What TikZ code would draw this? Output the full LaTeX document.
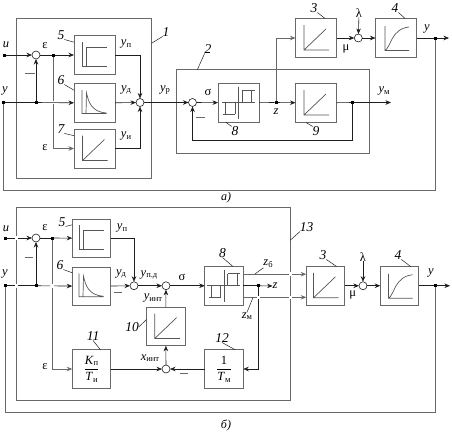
\documentclass[tikz,border=0pt]{standalone}
\usepackage{amsmath}
\usepackage{fontspec}
\setmainfont{Liberation Serif}
\usetikzlibrary{arrows.meta, positioning}
\definecolor{ctrlline}{RGB}{30,30,30}
\definecolor{ctrlgray}{RGB}{105,105,105}
\newcommand{\lab}[2]{\textit{#1}\raisebox{-.3ex}{\fontsize{8.5}{9}\selectfont #2}}
\newcommand{\stepicon}[1]{\draw[icon,shift={(#1)}] (-12.5,-13) -- (-12.5,11) -- (12,11) (-8,11) -- (-8,-7.5) -- (12,-7.5);}
\newcommand{\decayicon}[1]{\draw[icon,shift={(#1)}] (-12.5,-13) -- (-12.5,10.5) -- (12,10.5) (-8.5,10.5) -- (-8,-10) .. controls (-6,-1) and (-3,9) .. (12,10);}
\newcommand{\rampicon}[2][]{\draw[icon,shift={(#2)},#1] (-12,-13) -- (-12,12) -- (13,12) (-12,12) -- (10,-9);}
\newcommand{\riseicon}[1]{\draw[icon,shift={(#1)}] (-11,-12) -- (-11,12.5) -- (13,12.5) (-11,12.5) .. controls (-5,9) and (-5,-9) .. (13,-11);}
\newcommand{\relayicon}[1]{\draw[icon,shift={(#1)}] (0,-16) -- (0,16) (-17,0) -- (16,0) (3.5,0) -- (3.5,-12) (13,0) -- (13,-12) (3.5,-12) -- (16,-12) (-3.5,0) -- (-3.5,11.5) (-13,0) -- (-13,11.5) (-15.5,11.5) -- (-3.5,11.5);}

\begin{document}
\begin{tikzpicture}[
  x=1pt, y=-1pt,
  every node/.style={font=\fontsize{12.5}{13}\selectfont, outer sep=0pt},
  ablock/.style={draw=ctrlgray, line width=.9pt, minimum width=41pt, minimum height=39pt, inner sep=0pt},
  bblock/.style={draw=ctrlgray, line width=.9pt, minimum width=38.5pt, minimum height=38.5pt, inner sep=0pt},
  frame/.style={draw=ctrlgray, line width=.9pt, inner sep=0pt},
  sumnode/.style={draw=ctrlline, line width=.6pt, circle, minimum size=8pt, inner sep=0pt},
  jn/.style={fill=black, rectangle, minimum size=3pt, inner sep=0pt},
  gapnode/.style={fill=white, rectangle, minimum size=3.5pt, inner sep=0pt},
  sig/.style={-{Stealth[length=5.5pt, width=4.5pt]}, line width=.6pt, ctrlline},
  wire/.style={line width=.6pt, ctrlline},
  fb/.style={line width=.9pt, ctrlgray},
  fbsig/.style={-{Stealth[length=5.5pt, width=4.5pt]}, line width=.9pt, ctrlgray},
  icon/.style={line width=.7pt, ctrlline!75},
  tick/.style={line width=.5pt, ctrlline},
  minus/.style={line width=.8pt, ctrlgray},
  lab/.style={inner sep=0pt},
  num/.style={inner sep=0pt, font=\fontsize{13.5}{14}\selectfont\itshape}
]
\useasboundingbox (0,0) rectangle (452,431);
% panel a
\node[frame, minimum width=135pt, minimum height=160pt] (a1) at (84,98) {};
\node[frame, minimum width=192.5pt, minimum height=83.5pt] (a2) at (272.75,111.25) {};
\node[ablock] (a5) at (94.5,55) {};
\node[ablock, below=9pt of a5] (a6) {};
\node[ablock, below=6.5pt of a6] (a7) {};
\node[ablock] (a8) at (238.5,102.75) {};
\node[ablock] (a9) at (316,103) {};
\node[ablock] (a3) at (316,38) {};
\node[ablock] (a4) at (396,38) {};
\stepicon{a5}
\decayicon{a6}
\rampicon{a7}
\relayicon{a8}
\rampicon{a9}
\rampicon{a3}
\riseicon{a4}
\node[sumnode] (aerr) at (36,55) {};
\node[sumnode] (ares) at (140,102.5) {};
\node[sumnode] (asig) at (192.5,102.5) {};
\node[sumnode] (amu) at (358.3,38) {};
\node[jn] (au) at (4,55) {};
\node[jn] (ay) at (3.5,102.5) {};
\node[jn] (ajy) at (36,102.5) {};
\node[jn] (aje) at (53,55) {};
\node[jn] (ajz) at (276,102.5) {};
\node[jn] (ajm) at (352.7,102.5) {};
\node[jn] (ajo) at (435,38) {};
\coordinate (aout) at (449,38);
\coordinate (aym) at (391,102.5);
\coordinate (afbm) at (352.7,140);
\coordinate (afby) at (435,190);
\node[lab] (alam) at (359,13) {λ};
\draw[sig] (au) -- (aerr);
\draw[wire] (aerr) -- (aje);
\draw[sig] (aje) -- (a5);
\draw[fbsig] (aje) |- (a7);
\node[gapnode] (agap) at (53,102.5) {};
\draw[wire] (ay) -- (ajy);
\draw[sig] (ajy) -- (aerr);
\draw[sig] (ajy) -- (a6);
\draw[sig] (a5) -| (ares);
\draw[sig] (a6) -- (ares);
\draw[sig] (a7) -| (ares);
\draw[sig] (ares) -- (asig);
\draw[sig] (asig) -- (a8);
\draw[wire] (a8) -- (ajz);
\draw[sig] (ajz) -- (a9);
\draw[wire] (a9) -- (ajm);
\draw[sig] (ajm) -- (aym);
\draw[sig] (ajm) -- (afbm) -| (asig);
\draw[fbsig] (ajz) |- (a3);
\draw[sig] (a3) -- (amu);
\draw[sig] (alam) -- (amu);
\draw[sig] (amu) -- (a4);
\draw[wire] (a4) -- (ajo);
\draw[sig] (ajo) -- (aout);
\draw[fb] (ajo) -- (afby) -| (ay);
\draw[minus] (25,73) -- (35,73);
\draw[minus] (196,117) -- (205,117);
\node[lab] (alu) at (6,45) {\textit{u}};
\node[lab] (aly) at (5,91) {\textit{y}};
\node[lab] (ale1) at (45,46) {ε};
\node[lab] (ale2) at (45,148) {ε};
\node[lab] (alp) at (126,44) {\lab{y}{п}};
\node[lab] (ald) at (126,90) {\lab{y}{д}};
\node[lab] (ali) at (126,136) {\lab{y}{и}};
\node[lab] (alr) at (165,90) {\lab{y}{р}};
\node[lab] (als) at (208,92) {σ};
\node[lab] (alz) at (276,111.5) {\textit{z}};
\node[lab] (almu) at (346,49) {μ};
\node[lab] (aloy) at (427,28.5) {\textit{y}};
\node[lab] (alm) at (384,91) {\lab{y}{м}};
\node[num] (n1) at (166,32) {1};
\node[num] (n2) at (208,49) {2};
\node[num] (n3) at (314,8) {3};
\node[num] (n4) at (395,8) {4};
\node[num] (n5) at (61,35) {5};
\node[num] (n6) at (61,80) {6};
\node[num] (n7) at (61,129) {7};
\node[num] (n8) at (235,131) {8};
\node[num] (n9) at (316,131) {9};
\draw[tick] (n1.south west) -- (a1.39);
\draw[tick] (n2.south west) -- (a2.151);
\draw[tick] (n3.south east) -- (a3.65);
\draw[tick] (n4.south east) -- (a4.65);
\draw[tick] (n5.south east) -- (a5.148);
\draw[tick] (n6.south east) -- (a6.148);
\draw[tick] (n7.south east) -- (a7.148);
\draw[tick] (n8.north west) -- (a8.-123);
\draw[tick] (n9.north west) -- (a9.-117);
\node[lab, font=\fontsize{12}{13}\selectfont\itshape] (acap) at (226,198) {а)};
% panel b
\node[frame, minimum width=273.8pt, minimum height=192.6pt] (b13) at (153.4,304) {};
\node[bblock] (b5) at (91.5,238.25) {};
\node[bblock, below=9.5pt of b5] (b6) {};
\node[bblock] (b11) at (91.5,369) {};
\node[bblock] (b8) at (224,285.75) {};
\node[bblock] (b10) at (165.75,326.5) {};
\node[bblock] (b12) at (224,369) {};
\node[bblock] (b3) at (325.5,285.75) {};
\node[bblock] (b4) at (399.5,285.75) {};
\stepicon{b5}
\decayicon{b6}
\relayicon{b8}
\rampicon[xshift=1pt]{b10}
\rampicon{b3}
\riseicon{b4}
\node[lab] (b11t) at (b11) {$\dfrac{\mbox{\lab{K}{п}}}{\mbox{\lab{T}{и}}}$};
\node[lab] (b12t) at (b12) {$\dfrac{\mbox{1}}{\mbox{\lab{T}{м}}}$};
\node[sumnode] (berr) at (36,238) {};
\node[sumnode] (bpd) at (134,285.75) {};
\node[sumnode] (bsig) at (166,285.75) {};
\node[sumnode] (bx) at (166,369) {};
\node[sumnode] (bmu) at (363,285.75) {};
\node[jn] (bu) at (5,238) {};
\node[jn] (by) at (5.5,285.75) {};
\node[jn] (bjy) at (36,285.75) {};
\node[jn] (bje) at (52,238) {};
\node[jn] (bjz) at (258.5,285.75) {};
\node[jn] (bjo) at (435,285.75) {};
\coordinate (bout) at (450,285.75);
\coordinate (bfby) at (435,412.5);
\coordinate (bzbt) at (255,274);
\coordinate (bzmt) at (253,297.5);
\node[lab] (blam) at (363,257) {λ};
\node[lab] (blz) at (275,286) {\textit{z}};
\draw[sig] (bu) -- (berr);
\draw[wire] (berr) -- (bje);
\draw[sig] (bje) -- (b5);
\draw[fbsig] (bje) |- (b11);
\draw[wire] (by) -- (bjy);
\draw[sig] (bjy) -- (berr);
\draw[sig] (bjy) -- (b6);
\draw[sig] (b5) -| (bpd);
\draw[sig] (b6) -- (bpd);
\draw[sig] (bpd) -- (bsig);
\draw[sig] (bsig) -- (b8);
\draw[sig] (b10) -- (bsig);
\draw[sig] (bx) -- (b10);
\draw[sig] (b11) -- (bx);
\draw[sig] (b12) -- (bx);
\draw[fbsig] (b8.31) -- (b3.149);
\draw[fbsig] (b8.-31) -- (b3.-149);
\draw[wire] (b8) -- (bjz);
\draw[sig] (bjz) -- (blz);
\draw[sig] (bjz) |- (b12);
\draw[sig] (b3) -- (bmu);
\draw[sig] (blam) -- (bmu);
\draw[sig] (bmu) -- (b4);
\draw[wire] (b4) -- (bjo);
\draw[sig] (bjo) -- (bout);
\draw[fb] (bjo) -- (bfby) -| (by);
\node[gapnode] (bgap1) at (16.5,238) {};
\node[gapnode] (bgap2) at (16.5,285.75) {};
\node[gapnode] (bgap3) at (52,285.75) {};
\node[gapnode] (bgap4) at (290.3,274) {};
\node[gapnode] (bgap5) at (290.3,297.5) {};
\node[gapnode] (bgap6) at (258.5,297.5) {};
\draw[minus] (24.5,257) -- (33,257);
\draw[minus] (114,292) -- (122,292);
\draw[minus] (180,373) -- (188,373);
\node[lab] (blu) at (6,229) {\textit{u}};
\node[lab] (bly) at (5,274) {\textit{y}};
\node[lab] (ble1) at (45,228) {ε};
\node[lab] (ble2) at (45,367) {ε};
\node[lab] (blp) at (122,228) {\lab{y}{п}};
\node[lab] (bld) at (121,274) {\lab{y}{д}};
\node[lab] (blpd) at (149,275) {\lab{y}{п.д}};
\node[lab] (bls) at (182,277) {σ};
\node[lab] (bli) at (153,298) {\lab{y}{инт}};
\node[lab] (blx) at (150,358) {\lab{x}{инт}};
\node[lab] (blmu) at (352.7,295) {μ};
\node[lab] (bloy) at (431,273) {\textit{y}};
\node[lab] (blzb) at (268,264) {\lab{z}{б}};
\node[lab] (blzm) at (247,316) {\lab{z}{м}};
\node[num] (m3) at (323,255) {3};
\node[num] (m4) at (398,255) {4};
\node[num] (m5) at (62,222) {5};
\node[num] (m6) at (60,265) {6};
\node[num] (m8) at (222.5,253) {8};
\node[num] (m10) at (132,327) {10};
\node[num] (m11) at (93,336) {11};
\node[num] (m12) at (222,338) {12};
\node[num] (m13) at (306.7,227) {13};
\draw[tick] (m3.south east) -- (b3.60);
\draw[tick] (m4.south east) -- (b4.60);
\draw[tick] (m5.south east) -- (b5.145);
\draw[tick] (m6.south east) -- (b6.145);
\draw[tick] (m8.south) -- (b8.65);
\draw[tick] (m10.east) -- (b10.160);
\draw[tick] (m11.south) -- (b11.65);
\draw[tick] (m12.south) -- (b12.60);
\draw[tick] (m13.south west) -- (b13.25.7);
\draw[tick] (blzb.south west) -- (bzbt);
\draw[tick] (blzm.north) -- (bzmt);
\node[lab, font=\fontsize{12}{13}\selectfont\itshape] (bcap) at (226,425) {б)};
\end{tikzpicture}
\end{document}
